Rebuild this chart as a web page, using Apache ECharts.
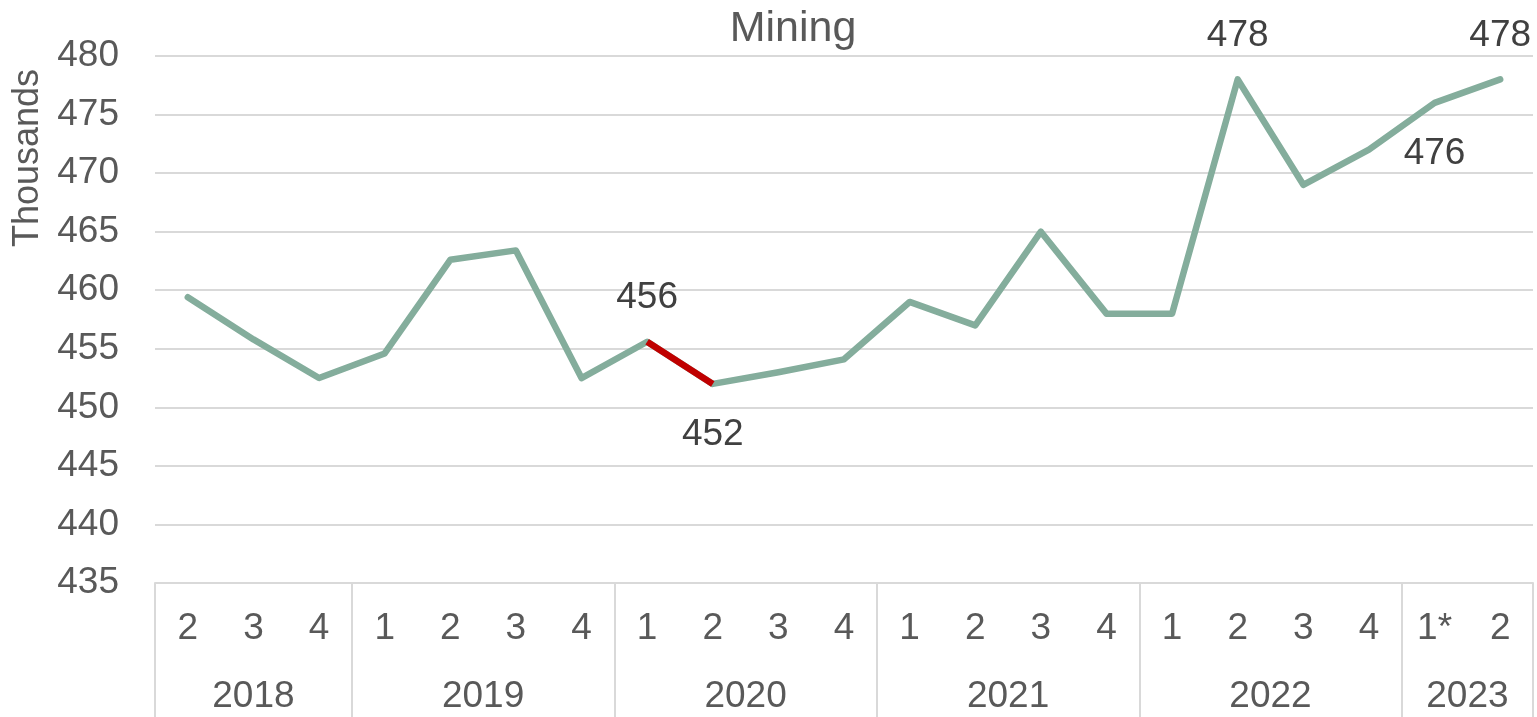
<!DOCTYPE html>
<html>
<head>
<meta charset="utf-8">
<script src="https://cdn.jsdelivr.net/npm/echarts@6/dist/echarts.min.js"></script>
<style>
  html, body { margin: 0; padding: 0; background: #fff; }
  #chart { width: 1537px; height: 717px; }
</style>
</head>
<body>
<div id="chart"></div>
<script>
// quarter labels along the bottom, one per point
var quarters = ['2', '3', '4', '1', '2', '3', '4', '1', '2', '3', '4', '1', '2', '3', '4', '1', '2', '3', '4', '1*', '2'];
// years and how many quarters each one spans
var years = ['2018', '2019', '2020', '2021', '2022', '2023'];
var quartersPerYear = [3, 4, 4, 4, 4, 2];
// mining employment, thousands
var mining = [459.4, 455.8, 452.5, 454.6, 462.6, 463.4, 452.5, 455.6, 452.0, 453.0, 454.1,
              459.0, 457.0, 465.0, 458.0, 458.0, 478.0, 469.0, 472.0, 476.0, 478.0];
// segment drawn in red (from index -> to index)
var redFrom = 7, redTo = 8;
// which points get a value label and where
var labelAt = { 7: 'top', 8: 'bottom', 16: 'top', 19: 'bottom', 20: 'top' };

var font = 'Liberation Sans, Arial, sans-serif';
var grey = '#595959';
var gridGrey = '#d9d9d9';
var green = '#84ad9c';

// year boundaries and the middle of each year group
var bounds = [0];
var mids = [];
quartersPerYear.forEach(function (n, i) {
    mids.push(bounds[i] + n / 2);
    bounds.push(bounds[i] + n);
});

var chart = echarts.init(document.getElementById('chart'));

var mainData = mining.map(function (v, i) {
    if (labelAt[i]) {
        return {
            value: v,
            label: {
                show: true,
                position: labelAt[i],
                distance: labelAt[i] === 'top' ? 25 : 32
            }
        };
    }
    return v;
});
var redData = mining.map(function (v, i) {
    return (i >= redFrom && i <= redTo) ? v : '-';
});

var option = {
    animation: false,
    title: {
        text: 'Mining',
        left: 788,
        textAlign: 'center',
        top: 3,
        textStyle: { fontFamily: font, fontSize: 43, fontWeight: 'normal', color: grey }
    },
    // y-axis title sits near the top, not at the axis middle
    graphic: [{
        type: 'text',
        x: 28,
        y: 158,
        rotation: Math.PI / 2,
        style: {
            text: 'Thousands',
            fontFamily: font, fontSize: 36, fill: grey,
            align: 'center', verticalAlign: 'middle'
        }
    }],
    grid: { left: 155, right: 4, top: 56, bottom: 134 },
    xAxis: [
        {
            type: 'category',
            data: quarters,
            boundaryGap: true,
            axisLine: { show: true, lineStyle: { color: gridGrey, width: 2 } },
            axisTick: { show: false },
            axisLabel: { margin: 27, fontFamily: font, fontSize: 37, color: grey, interval: 0 },
            splitLine: { show: false }
        },
        {
            type: 'value',
            position: 'bottom',
            min: 0,
            max: bounds[bounds.length - 1],
            axisLine: { show: false },
            splitLine: { show: false },
            axisTick: {
                show: true,
                customValues: bounds,
                length: 140,
                lineStyle: { color: gridGrey, width: 2 }
            },
            axisLabel: {
                customValues: mids,
                margin: 95,
                fontFamily: font, fontSize: 37, color: grey,
                formatter: function (val) {
                    var i = mids.indexOf(val);
                    return i >= 0 ? years[i] : '';
                }
            }
        }
    ],
    yAxis: {
        type: 'value',
        min: 435,
        max: 480,
        interval: 5,
        axisLine: { show: false },
        axisTick: { show: false },
        axisLabel: { margin: 36, fontFamily: font, fontSize: 37, color: grey },
        splitLine: { lineStyle: { color: gridGrey, width: 2 } }
    },
    series: [
        {
            type: 'line',
            data: mainData,
            symbol: 'circle',
            symbolSize: 1,
            showAllSymbol: true,
            itemStyle: { color: green },
            lineStyle: { color: green, width: 6.5, cap: 'round', join: 'round' },
            label: {
                show: false,
                fontFamily: font, fontSize: 37, color: '#404040',
                formatter: function (p) { return Math.round(p.value); }
            },
            z: 3
        },
        {
            type: 'line',
            data: redData,
            showSymbol: false,
            symbol: 'none',
            lineStyle: { color: '#c00000', width: 6.5, cap: 'butt', join: 'round' },
            z: 4
        }
    ]
};

chart.setOption(option);
</script>
</body>
</html>
